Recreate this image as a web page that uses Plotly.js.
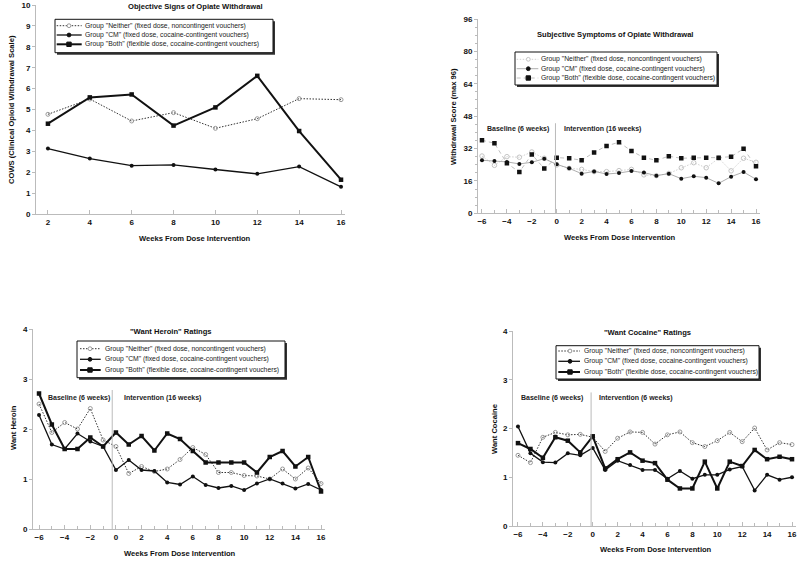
<!DOCTYPE html>
<html>
<head>
<meta charset="utf-8">
<script src="https://cdn.plot.ly/plotly-3.0.1.min.js"></script>
<style>
  html, body { margin: 0; padding: 0; background: #fff; }
  #chart { width: 800px; height: 563px; }
</style>
</head>
<body>
<div id="chart"></div>
<script>
// --- data ---
const cowsWeeks = [2, 4, 6, 8, 10, 12, 14, 16];
const cowsNeither = [4.77, 5.50, 4.45, 4.85, 4.10, 4.56, 5.52, 5.47];
const cowsCM = [3.13, 2.65, 2.31, 2.35, 2.13, 1.92, 2.27, 1.30];
const cowsBoth = [4.32, 5.58, 5.72, 4.23, 5.10, 6.61, 3.97, 1.64];

const weeks = [-6, -5, -4, -3, -2, -1, 0, 1, 2, 3, 4, 5, 6, 7, 8, 9, 10, 11, 12, 13, 14, 15, 16];

const sympNeither = [28.3, 23.7, 28.0, 27.7, 30.3, 27.2, 23.9, 22.2, 21.7, 20.6, 20.6, 21.1, 21.7, 19.0, 18.6, 19.7, 22.5, 25.0, 22.5, 27.2, 21.0, 27.2, 25.2];
const sympCM = [26.2, 25.9, 25.4, 24.4, 25.2, 27.0, 24.2, 22.2, 19.6, 20.7, 19.4, 19.9, 20.9, 20.1, 18.6, 19.6, 17.1, 18.3, 17.6, 14.8, 18.1, 20.4, 16.8];
const sympBoth = [36.1, 34.6, 24.7, 20.4, 29.1, 22.1, 27.5, 27.2, 26.2, 30.1, 33.3, 35.1, 30.8, 27.5, 26.2, 28.2, 27.2, 27.5, 27.5, 27.5, 28.0, 31.9, 23.2];

const heroinNeither = [2.50, 1.93, 2.13, 2.00, 2.41, 1.78, 1.65, 1.11, 1.25, 1.15, 1.20, 1.39, 1.63, 1.49, 1.13, 1.13, 1.07, 1.06, 1.00, 1.20, 1.00, 1.22, 0.91];
const heroinCM = [2.28, 1.69, 1.60, 1.91, 1.75, 1.65, 1.18, 1.38, 1.18, 1.16, 0.93, 0.89, 1.05, 0.88, 0.82, 0.86, 0.78, 0.91, 1.00, 0.91, 0.81, 0.90, 0.78];
const heroinBoth = [2.71, 2.09, 1.60, 1.60, 1.83, 1.65, 1.93, 1.69, 1.86, 1.57, 1.91, 1.80, 1.56, 1.33, 1.33, 1.33, 1.33, 1.13, 1.44, 1.56, 1.25, 1.44, 0.75];

const cocaineNeither = [1.45, 1.30, 1.82, 1.92, 1.87, 1.88, 1.82, 1.53, 1.80, 1.93, 1.92, 1.68, 1.87, 1.93, 1.71, 1.63, 1.75, 1.92, 1.73, 2.01, 1.56, 1.71, 1.67];
const cocaineCM = [2.04, 1.49, 1.31, 1.30, 1.49, 1.45, 1.60, 1.15, 1.34, 1.25, 1.15, 1.15, 0.97, 1.13, 0.97, 1.05, 1.05, 1.16, 1.22, 0.73, 1.05, 0.95, 1.00];
const cocaineBoth = [1.70, 1.58, 1.40, 1.82, 1.75, 1.51, 1.84, 1.18, 1.37, 1.51, 1.34, 1.29, 0.95, 0.77, 0.77, 1.32, 0.77, 1.32, 1.23, 1.56, 1.37, 1.42, 1.37];

const groupNames = [
    'Group "Neither" (fixed dose, noncontingent vouchers)',
    'Group "CM" (fixed dose, cocaine-contingent vouchers)',
    'Group "Both" (flexible dose, cocaine-contingent vouchers)'
];

// pixel -> paper helpers (margins are zero)
const W = 800, H = 563;
function px(x) { return x / W; }
function py(y) { return 1 - y / H; }

const FONT = 'Liberation Sans, Arial, sans-serif';

// styles: solid-line panels (1, 3, 4)
const solidStyles = [
    { line: { color: '#333', width: 1, dash: '1.5px,1.5px' },
      marker: { symbol: 'circle-open', size: 4, color: '#999', line: { width: 1 } }, mk: 'open', mkColor: '#999' },
    { line: { color: '#111', width: 1.3 },
      marker: { symbol: 'circle', size: 4, color: '#111' }, mk: 'circle', mkColor: '#111' },
    { line: { color: '#111', width: 2 },
      marker: { symbol: 'square', size: 4.5, color: '#111' }, mk: 'square', mkColor: '#111' }
];
// styles: subjective symptoms panel (light connecting lines)
const lightStyles = [
    { line: { color: '#d0d0d0', width: 1, dash: '1.5px,1.5px' },
      marker: { symbol: 'circle-open', size: 4.5, color: '#c4c4c4', line: { width: 1 } }, mk: 'open', mkColor: '#c4c4c4' },
    { line: { color: '#999', width: 0.8 },
      marker: { symbol: 'circle', size: 4, color: '#111' }, mk: 'circle', mkColor: '#111' },
    { line: { color: '#c0c0c0', width: 1, dash: '4px,3px' },
      marker: { symbol: 'square', size: 4.5, color: '#111' }, mk: 'square', mkColor: '#111' }
];

function makeTrace(x, y, style, name, xa, ya) {
    return {
        type: 'scatter', mode: 'lines+markers', x: x, y: y, name: name,
        xaxis: xa, yaxis: ya, showlegend: false,
        line: style.line, marker: style.marker
    };
}

let data = [];
[cowsNeither, cowsCM, cowsBoth].forEach((ys, i) => data.push(makeTrace(cowsWeeks, ys, solidStyles[i], groupNames[i], 'x', 'y')));
[sympNeither, sympCM, sympBoth].forEach((ys, i) => data.push(makeTrace(weeks, ys, lightStyles[i], groupNames[i], 'x2', 'y2')));
[heroinNeither, heroinCM, heroinBoth].forEach((ys, i) => data.push(makeTrace(weeks, ys, solidStyles[i], groupNames[i], 'x3', 'y3')));
[cocaineNeither, cocaineCM, cocaineBoth].forEach((ys, i) => data.push(makeTrace(weeks, ys, solidStyles[i], groupNames[i], 'x4', 'y4')));

function xAxis(domain, range, anchor, minor) {
    let ax = {
        domain: domain, range: range, anchor: anchor,
        showgrid: false, zeroline: false,
        showline: true, linecolor: '#bbb', linewidth: 1,
        ticks: 'inside', ticklen: 4, tickcolor: '#bbb',
        tick0: 0, dtick: 2,
        tickfont: { family: FONT, size: 8, color: '#111', weight: 'bold' }
    };
    if (minor) ax.minor = { dtick: 1, ticks: 'inside', ticklen: 3, tickcolor: '#bbb' };
    return ax;
}
function yAxis(domain, range, anchor, dtick, minorStep) {
    let ax = {
        domain: domain, range: range, anchor: anchor,
        showgrid: false, zeroline: false,
        showline: true, linecolor: '#bbb', linewidth: 1,
        ticks: 'outside', ticklen: 3, tickcolor: '#bbb',
        tick0: 0, dtick: dtick,
        tickfont: { family: FONT, size: 8, color: '#111', weight: 'bold' }
    };
    if (minorStep) ax.minor = { dtick: minorStep, ticks: 'outside', ticklen: 2, tickcolor: '#bbb' };
    return ax;
}

function label(text, x, y, opts) {
    return Object.assign({
        text: text, xref: 'paper', yref: 'paper', x: px(x), y: py(y),
        xanchor: 'center', yanchor: 'middle', showarrow: false,
        font: { family: FONT, size: 7.6, color: '#111', weight: 'bold' }
    }, opts || {});
}
const smallBold = { family: FONT, size: 7, color: '#222', weight: 'bold' };

let annotations = [
    label('Objective Signs of Opiate Withdrawal', 195, 6),
    label('Weeks From Dose Intervention', 195, 239),
    label('COWS (Clinical Opioid Withdrawal Scale)', 12, 110, { textangle: -90 }),

    label('Subjective Symptoms of Opiate Withdrawal', 615, 35),
    label('Weeks From Dose Intervention', 620, 237),
    label('Withdrawal Score (max 96)', 453, 117, { textangle: -90 }),
    label('Baseline (6 weeks)', 518, 129, { font: smallBold }),
    label('Intervention (16 weeks)', 602, 129, { font: smallBold }),

    label('"Want Heroin" Ratings', 171, 331),
    label('Weeks From Dose Intervention', 180, 553),
    label('Want Heroin', 13, 428, { textangle: -90 }),
    label('Baseline (6 weeks)', 79, 398, { font: smallBold }),
    label('Intervention (16 weeks)', 162, 398, { font: smallBold }),

    label('"Want Cocaine" Ratings', 647, 333),
    label('Weeks From Dose Intervention', 656, 549),
    label('Want Cocaine', 494, 429, { textangle: -90 }),
    label('Baseline (6 weeks)', 552, 398, { font: smallBold }),
    label('Intervention (6 weeks)', 636, 398, { font: smallBold })
];

// vertical separators between baseline and intervention
let shapes = [
    { type: 'line', xref: 'x2', yref: 'y2', x0: -0.1, x1: -0.1, y0: 0, y1: 44.5, line: { color: '#bbb', width: 1 } },
    { type: 'line', xref: 'x3', yref: 'y3', x0: -0.29, x1: -0.29, y0: 0, y1: 2.78, line: { color: '#bbb', width: 1 } },
    { type: 'line', xref: 'x4', yref: 'y4', x0: -0.13, x1: -0.13, y0: 0, y1: 2.74, line: { color: '#bbb', width: 1 } }
];

// hand-drawn legend boxes (plotly's own legend rows are too tall for this figure)
function legendBox(box, rowYs, lineX0, lineX1, markX, textX, styles) {
    const [x0, y0, x1, y1] = box;
    shapes.push({ type: 'rect', xref: 'paper', yref: 'paper', x0: px(x0 + 2), x1: px(x1 + 2), y0: py(y0 + 2), y1: py(y1 + 2),
        fillcolor: '#333', line: { width: 0 }, layer: 'above' });
    shapes.push({ type: 'rect', xref: 'paper', yref: 'paper', x0: px(x0), x1: px(x1), y0: py(y0), y1: py(y1),
        fillcolor: '#fff', line: { color: '#111', width: 1 }, layer: 'above' });
    rowYs.forEach((ry, i) => {
        const st = styles[i];
        shapes.push({ type: 'line', xref: 'paper', yref: 'paper', x0: px(lineX0), x1: px(lineX1), y0: py(ry), y1: py(ry),
            line: { color: st.line.color, width: st.line.width, dash: st.line.dash || 'solid' }, layer: 'above' });
        const r = st.mk === 'square' ? 2.2 : 1.9;
        shapes.push({
            type: st.mk === 'square' ? 'rect' : 'circle', xref: 'paper', yref: 'paper',
            x0: px(markX - r), x1: px(markX + r), y0: py(ry - r), y1: py(ry + r),
            fillcolor: st.mk === 'open' ? '#fff' : st.mkColor,
            line: { color: st.mkColor, width: 1 }, layer: 'above'
        });
        annotations.push({
            text: groupNames[i], xref: 'paper', yref: 'paper', x: px(textX), y: py(ry),
            xanchor: 'left', yanchor: 'middle', showarrow: false,
            font: { family: FONT, size: 6.8, color: '#222' }
        });
    });
}

legendBox([55, 19.3, 273, 52.7], [25.7, 35, 44.3], 56.7, 81.7, 69, 82.5, solidStyles);
legendBox([515, 52, 717, 85], [59.3, 68.7, 78], 516.7, 538.3, 528.3, 539.3, lightStyles);
legendBox([77, 341, 285, 377.7], [348.7, 359.3, 370], 80, 100.7, 90, 102.5, solidStyles);
legendBox([556, 345.7, 759, 379], [351, 361.3, 372], 558.3, 580, 570, 581.5, solidStyles);

const layout = {
    width: W, height: H,
    margin: { l: 0, r: 0, t: 0, b: 0 },
    paper_bgcolor: '#fff', plot_bgcolor: '#fff',
    font: { family: FONT },
    showlegend: false,

    xaxis: xAxis([px(36), px(345)], [1.43, 16.19], 'y', false),
    yaxis: yAxis([py(214), py(5)], [0, 10], 'x', 1, null),

    xaxis2: xAxis([px(478), px(760)], [-6.32, 16.32], 'y2', true),
    yaxis2: yAxis([py(213.3), py(19)], [0, 96], 'x2', 16, 4),

    xaxis3: xAxis([px(33), px(325)], [-6.47, 16.31], 'y3', true),
    yaxis3: yAxis([py(529), py(329)], [0, 4], 'x3', 1, null),

    xaxis4: xAxis([px(513), px(796)], [-6.40, 16.32], 'y4', true),
    yaxis4: yAxis([py(526), py(331)], [0, 4], 'x4', 1, null),

    annotations: annotations,
    shapes: shapes
};

Plotly.newPlot('chart', data, layout, { displayModeBar: false, staticPlot: true });
</script>
</body>
</html>
